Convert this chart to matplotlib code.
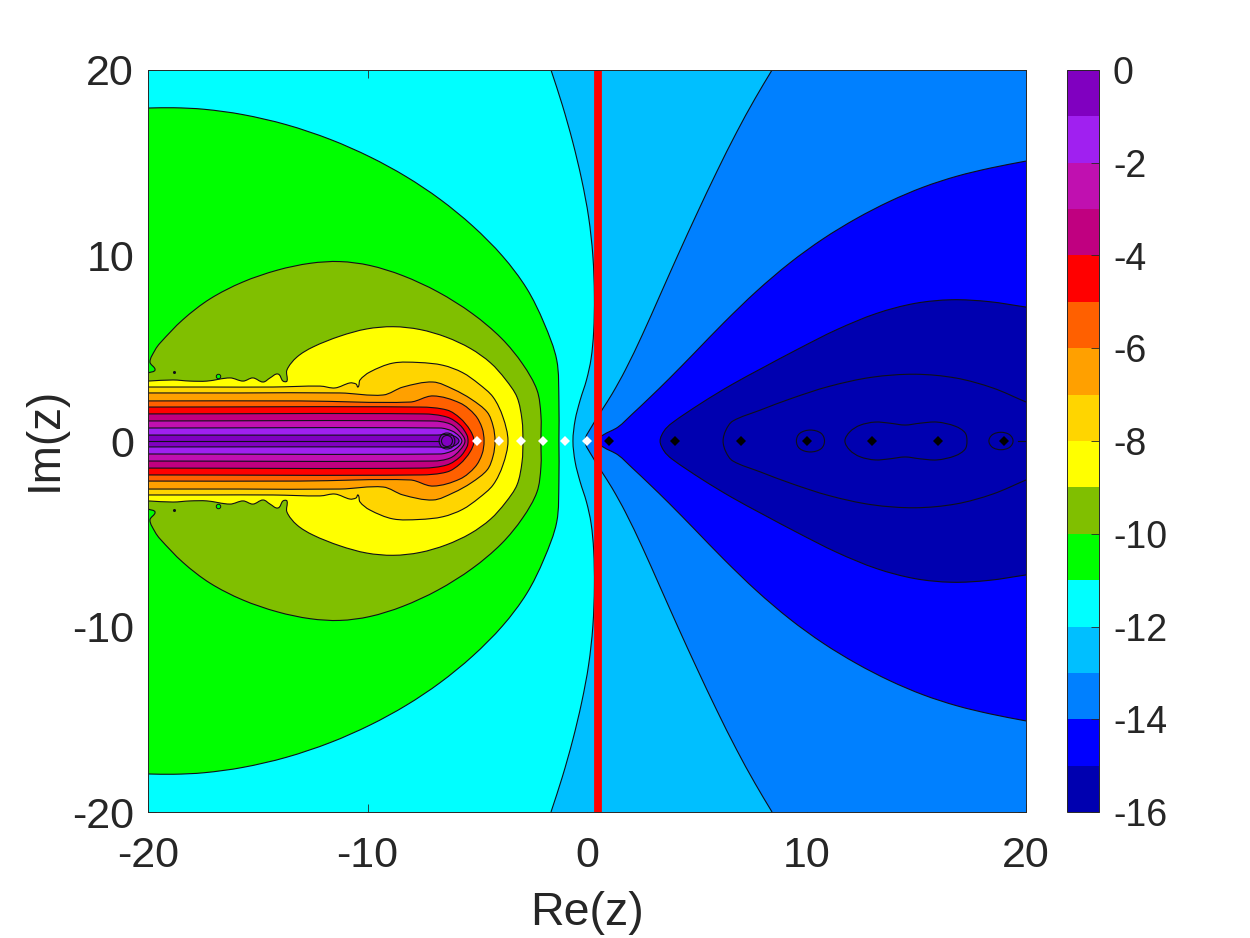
import numpy as np
import matplotlib
matplotlib.use('Agg')
import matplotlib.pyplot as plt
from matplotlib.colors import ListedColormap, BoundaryNorm
from matplotlib.cm import ScalarMappable
from matplotlib.path import Path
from matplotlib.patches import PathPatch

plt.rcParams['font.family'] = ['Liberation Sans', 'DejaVu Sans']
plt.rcParams['axes.unicode_minus'] = False

# colour bands, bottom of the colorbar to the top
levels = np.arange(-16, 1)
band_colors = ['#0000B0', '#0000FF', '#0080FF', '#00BFFF', '#00FFFF', '#00FF00',
               '#80BF00', '#FFFF00', '#FFD500', '#FFA000', '#FF6000', '#FF0000',
               '#C00080', '#C010B0', '#A020F0', '#8000C0']
cbar_ticks = [0, -2, -4, -6, -8, -10, -12, -14, -16]
axis_ticks = [-20, -10, 0, 10, 20]

# contour lines, upper half only (the plot is symmetric in Im z)
# left family
c11_re = [-20, -18.86, -17.77, -15.81, -13.67, -11.57, -9.75, -8.2, -6.7, -5.19, -3.64, -2.6, -1.82, -1.38, -1.28, -1.28]
c11_im = [17.95, 18.0, 18.0, 17.74, 17.2, 16.33, 15.31, 14.34, 13.15, 11.75, 9.92, 8.3, 6.52, 4.37, 2.2, 0]

c10_re = [-20, -19.68, -19.91, -19.68, -19.45, -18.54, -17.31, -15.81, -13.99, -12.48, -11.25, -10.02, -8.52, -6.7, -5.19, -3.64, -2.69, -2.28, -2.1, -2.1]
c10_im = [3.67, 3.83, 4.26, 4.9, 5.28, 6.68, 7.76, 8.68, 9.38, 9.7, 9.81, 9.65, 9.11, 8.14, 7.06, 5.44, 4.2, 2.75, 1.4, 0]

c9_re = [-20, -18.86, -18.09, -17.31, -16.26, -15.67, -15.22, -14.76, -14.44, -14.08, -13.85, -13.67, -13.67, -13.21, -12.48, -11.25, -10.02, -8.84, -7.61, -6.38, -5.19, -4.28, -3.6, -3.19, -2.96, -2.92]
c9_im = [3.23, 3.29, 3.23, 3.23, 3.4, 3.23, 3.4, 3.18, 3.4, 3.61, 3.23, 3.23, 3.83, 4.53, 5.07, 5.82, 6.15, 6.31, 6.15, 5.71, 5.01, 4.37, 3.29, 2.37, 1.13, 0]

c8_re = [-20, -17.31, -14.31, -12.16, -11.48, -10.8, -10.52, -10.43, -10.34, -9.89, -8.84, -7.61, -6.38, -5.65, -4.87, -4.28, -3.83, -3.6]
c8_im = [2.91, 2.91, 2.91, 2.96, 2.86, 3.13, 3.07, 2.91, 3.29, 3.72, 4.2, 4.37, 4.2, 3.83, 3.13, 2.37, 1.29, 0]

c7_re = [-20, -15.81, -11.25, -9.29, -8.38, -7.02, -6.01, -5.19, -4.55, -4.28, -4.19]
c7_im = [2.59, 2.59, 2.59, 2.48, 2.91, 3.18, 2.91, 2.37, 1.56, 0.81, 0]

c6_re = [-20, -13.07, -8.06, -7.02, -5.79, -5.1, -4.78, -4.69]
c6_im = [2.16, 2.16, 2.1, 2.43, 2.05, 1.4, 0.7, 0]

c5_re = [-20, -7.61, -6.38, -5.79, -5.33, -5.15]
c5_im = [1.83, 1.83, 1.67, 1.24, 0.59, 0]

c4_re = [-20, -7.47, -6.38, -5.79, -5.47, -5.42]
c4_im = [1.46, 1.46, 1.29, 0.86, 0.32, 0]

c3_re = [-20, -7.02, -6.24, -5.79, -5.56]
c3_im = [1.08, 1.08, 0.92, 0.49, 0]

c2_re = [-20, -6.7, -6.15, -5.83, -5.7]
c2_im = [0.7, 0.7, 0.54, 0.27, 0]

c1_re = [-20, -6.83, -6.38, -6.01, -5.83]
c1_im = [0.32, 0.32, 0.35, 0.24, 0]

# right family
c12_re = [-1.64, -1.09, -0.64, -0.18, 0.14, 0.32, 0.41, 0.32, 0.23, 0.05, -0.31, -0.54, -0.64]
c12_im = [20, 18.22, 16.23, 13.91, 12.08, 10.3, 7.6, 5.44, 4.37, 3.29, 2.21, 1.13, 0]

c13_re = [8.43, 7.75, 6.83, 5.92, 5.01, 4.1, 3.33, 2.55, 1.6, 1.05, 0.68, 0.23, -0.09]
c13_im = [20, 18.76, 16.77, 14.61, 12.29, 9.92, 7.98, 5.61, 3.34, 2.32, 1.67, 0.81, 0]

c14_re = [20, 18.36, 16.86, 15.31, 13.8, 12.3, 10.75, 9.25, 7.75, 6.2, 4.69, 3.69, 2.73, 1.96, 1.41, 0.73, 0.46]
c14_im = [15.09, 14.77, 14.34, 13.8, 12.99, 12.08, 11.0, 9.76, 8.14, 6.52, 4.37, 3.29, 2.21, 1.29, 0.75, 0.32, 0]

c15_re = [20, 18.36, 16.54, 15.03, 13.21, 11.39, 9.57, 7.75, 6.65, 5.28, 3.87, 3.51, 3.33]
c15_im = [7.22, 7.65, 7.76, 7.6, 7.06, 6.15, 4.91, 3.77, 3.13, 2.21, 0.97, 0.54, 0]

c16_re = [20, 18.68, 16.86, 15.03, 13.03, 10.75, 9.25, 7.75, 6.65, 6.33, 6.2]
c16_im = [2.1, 3.02, 3.56, 3.77, 3.67, 3.02, 2.21, 1.67, 1.08, 0.59, 0]

# small closed loops on the real axis
loop_a_re = [9.54, 9.7, 10.18, 10.66, 10.82]
loop_a_im = [0, 0.42, 0.59, 0.42, 0]
loop_b_re = [11.75, 11.98, 12.44, 13.12, 13.8, 14.49, 15.17, 15.95, 16.77, 17.22, 17.31]
loop_b_im = [0, 0.5, 0.85, 1.02, 0.96, 0.86, 0.96, 1.02, 0.8, 0.45, 0]
loop_c_re = [18.31, 18.47, 18.86, 19.25, 19.41]
loop_c_im = [0, 0.34, 0.47, 0.34, 0]
loop_d_re = [-6.74, -6.62, -6.38, -6.14, -6.02]
loop_d_im = [0, 0.33, 0.43, 0.33, 0]
loop_e_re = [-6.63, -6.55, -6.38, -6.21, -6.13]
loop_e_im = [0, 0.22, 0.3, 0.22, 0]

# straight bits of contour on the axis
tail_re = [19.65, 20]
center_re = [-20, -6.74]

# specks in the olive band
speck_re = [-18.82]
speck_im = [3.72]
ring_re = [-16.81]
ring_im = [3.5]

# poles
white_re = [-5, -4, -3, -2, -1, 0]
black_re = [1, 4, 7, 10, 13, 16, 19]
red_line_re = [0.5, 0.5]
red_line_im = [-20, 20]


def mirrored(re, im, start=None):
    # upper half followed by its reflection, the point on the axis only once
    # start: evens out reading noise from this index on, the tip stays as read
    re = np.array(re, dtype=float)
    im = np.array(im, dtype=float)
    if start is not None:
        for _ in range(2):
            for a in (re, im):
                a[start + 1:-3] = 0.25 * a[start:-4] + 0.5 * a[start + 1:-3] + 0.25 * a[start + 2:-2]
    return np.r_[re, re[-2::-1]], np.r_[im, -im[-2::-1]]


def smooth_path(x, y, closed=False, corners=None):
    # bezier segments through the points, corners joined by straight lines
    p = np.column_stack([x, y])
    if closed:
        p = p[:-1]
        prev_p, next_p = np.roll(p, 1, axis=0), np.roll(p, -1, axis=0)
    else:
        prev_p = np.vstack([p[0], p[:-1]])
        next_p = np.vstack([p[1:], p[-1]])
    d = next_p - prev_p
    d = d / np.maximum(np.hypot(d[:, 0], d[:, 1]), 1e-9)[:, None]
    verts = [p[0]]
    codes = [Path.MOVETO]
    n = len(p) if closed else len(p) - 1
    for i in range(n):
        j = (i + 1) % len(p)
        seg = np.hypot(*(p[j] - p[i])) / 3
        verts += [p[i] + d[i] * seg, p[j] - d[j] * seg, p[j]]
        codes += [Path.CURVE4] * 3
    if corners is not None:
        for corner in corners:
            verts.append(corner)
            codes.append(Path.LINETO)
    if corners is not None or closed:
        verts.append(p[0])
        codes.append(Path.CLOSEPOLY)
    return Path(np.array(verts), codes)


fig = plt.figure(figsize=(12.5, 9.38), dpi=100)
ax = fig.add_axes([148 / 1250, 126 / 938, 878 / 1250, 742 / 938])
ax.set_facecolor(band_colors[4])

line_color = '#101018'
line_w = 0.8

# nested bands, each painted over the one outside it
left_bands = [(c11_re, c11_im, 5, 0), (c10_re, c10_im, 6, 4), (c9_re, c9_im, 7, 14), (c8_re, c8_im, 8, 10),
              (c7_re, c7_im, 9, 5), (c6_re, c6_im, 10, None), (c5_re, c5_im, 11, None), (c4_re, c4_im, 12, None),
              (c3_re, c3_im, 13, None), (c2_re, c2_im, 14, None), (c1_re, c1_im, 15, None)]
for re, im, k, start in left_bands:
    x, y = mirrored(re, im, start)
    ax.add_patch(PathPatch(smooth_path(x, y, corners=[]), fc=band_colors[k], ec='none', zorder=2))
    ax.add_patch(PathPatch(smooth_path(x, y), fc='none', ec=line_color, lw=line_w, zorder=3))

right_bands = [(c12_re, c12_im, 3, [(20, -20), (20, 20)]), (c13_re, c13_im, 2, [(20, -20), (20, 20)]),
               (c14_re, c14_im, 1, []), (c15_re, c15_im, 0, [])]
for re, im, k, corners in right_bands:
    x, y = mirrored(re, im, 0)
    ax.add_patch(PathPatch(smooth_path(x, y, corners=corners), fc=band_colors[k], ec='none', zorder=2))
    ax.add_patch(PathPatch(smooth_path(x, y), fc='none', ec=line_color, lw=line_w, zorder=3))

x, y = mirrored(c16_re, c16_im, 0)
ax.add_patch(PathPatch(smooth_path(x, y), fc='none', ec=line_color, lw=line_w, zorder=3))

for re, im in [(loop_a_re, loop_a_im), (loop_b_re, loop_b_im), (loop_c_re, loop_c_im),
               (loop_d_re, loop_d_im), (loop_e_re, loop_e_im)]:
    x, y = mirrored(re, im)
    ax.add_patch(PathPatch(smooth_path(x, y, closed=True), fc='none', ec=line_color, lw=line_w, zorder=3))

ax.plot(tail_re, [0, 0], color=line_color, lw=line_w, zorder=3)
ax.plot(center_re, [0, 0], color=line_color, lw=line_w, zorder=3)

for sign in [1, -1]:
    ax.plot(speck_re, np.array(speck_im) * sign, 'o', ms=1.2, color=line_color, zorder=3)
    ax.plot(ring_re, np.array(ring_im) * sign, 'o', ms=3.2, mfc=band_colors[5], mec=line_color, mew=0.7, zorder=3)

ax.plot(white_re, np.zeros(len(white_re)), 'D', color='white', ms=5.2, mew=0, zorder=4)
ax.plot(black_re, np.zeros(len(black_re)), 'D', color='black', ms=5.0, mew=0, zorder=4)
ax.plot(red_line_re, red_line_im, color='#FF0000', lw=5.6, solid_capstyle='butt', zorder=5)

ax.set_xlim(-20, 20)
ax.set_ylim(-20, 20)
ax.set_xticks(axis_ticks)
ax.set_yticks(axis_ticks)
ax.tick_params(direction='in', top=True, right=True, length=6, width=0.6, color='#262626',
               labelsize=31, labelcolor='#262626')
ax.tick_params(axis='x', pad=17)
ax.tick_params(axis='y', pad=10)
for s in ax.spines.values():
    s.set_linewidth(0.7)
    s.set_color('#262626')
    s.set_zorder(6)
ax.set_xlabel('Re(z)', fontsize=33.5, color='#262626', labelpad=11)
ax.set_ylabel('Im(z)', fontsize=33, color='#262626', labelpad=4, y=0.503)

cax = fig.add_axes([1067 / 1250, 126 / 938, 32 / 1250, 742 / 938])
sm = ScalarMappable(norm=BoundaryNorm(levels, len(band_colors)), cmap=ListedColormap(band_colors))
cb = fig.colorbar(sm, cax=cax, ticks=cbar_ticks, spacing='proportional', drawedges=False)
cb.ax.tick_params(direction='in', length=6, width=0.6, color='#262626', labelsize=27,
                  labelcolor='#262626', pad=10)
cb.ax.minorticks_off()
cb.ax.set_yticklabels([str(v) for v in cbar_ticks])
cb.outline.set_linewidth(0.7)
cb.outline.set_edgecolor('#262626')

fig.savefig('out.png', dpi=100)
